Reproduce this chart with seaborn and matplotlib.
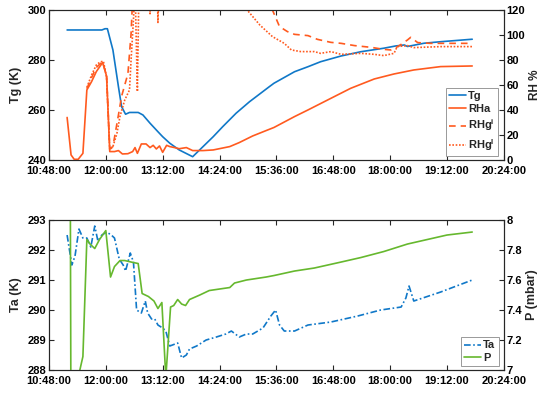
import matplotlib
matplotlib.use("Agg")
import matplotlib.pyplot as plt
import seaborn as sns

# ---- top panel: ground temperature and relative humidity ----
tg_time = ["11:11", "11:55", "11:59", "12:02", "12:09", "12:16", "12:20", "12:25", "12:30",
           "12:41", "12:47", "12:56", "13:06", "13:12", "13:21", "13:33", "13:50", "14:03",
           "14:16", "14:28", "14:45", "15:02", "15:27", "15:33", "15:59", "16:16", "16:32",
           "16:58", "17:23", "17:52", "18:07", "18:18", "18:22", "18:43", "19:04", "19:44"]
tg = [292, 292, 292.5, 292.5, 284, 269.3, 261.3, 258.3, 259, 259, 258, 254.7, 251.3, 249.3,
      246.7, 244, 241.3, 245.3, 249.3, 253.3, 258.7, 263.3, 269.3, 270.7, 275.3, 277.3, 279.3,
      281.6, 283.3, 284.7, 285.6, 286, 285.4, 286.7, 287.3, 288.3]

rha_time = ["11:11", "11:16", "11:20", "11:25", "11:31", "11:36", "11:42", "11:48", "11:56",
            "12:01", "12:05", "12:11", "12:16", "12:21", "12:28", "12:34", "12:37", "12:40",
            "12:45", "12:51", "12:56", "13:00", "13:04", "13:08", "13:12", "13:17", "13:21",
            "13:27", "13:33", "13:42", "13:50", "14:03", "14:16", "14:37", "14:49", "15:06",
            "15:23", "15:33", "15:59", "16:16", "16:45", "17:10", "17:40", "18:05", "18:30",
            "19:04", "19:44"]
rha = [34, 4, 0.5, 0.5, 5.3, 56, 62.7, 70.7, 78, 67, 6.7, 6.7, 7.5, 4.8, 5, 6.7, 9.9, 5.3,
       12.8, 12.8, 9.9, 11.7, 8.8, 11.2, 6.1, 11.7, 10.7, 9.9, 9, 9.9, 7.5, 7.5, 8, 10.7, 13.9,
       19.2, 23.5, 26, 34.7, 40, 49.3, 57.3, 64.8, 68.8, 72, 74.7, 75.2]

rhgi_time = ["11:36", "11:42", "11:48", "11:53", "11:56", "12:01", "12:05", "12:09", "12:16",
             "12:20", "12:28", "12:32", "12:34", "13:00", "14:00", "15:00", "15:31", "15:40",
             "15:50", "15:59", "16:16", "16:28", "16:45", "16:58", "17:15", "17:36", "17:52",
             "18:01", "18:11", "18:22", "18:26", "18:35", "18:51", "19:21", "19:44"]
rhgi = [57, 66, 74, 77, 78.5, 67, 9, 10.7, 36, 51, 69, 101, 130, 170, 170, 150, 120, 106.7,
        102.7, 100.5, 99.5, 96.5, 94.1, 93.3, 91.5, 90.1, 88.5, 88, 91.2, 96, 98.1, 93.9, 93.3,
        93.3, 93.3]

rhgl_time = ["11:36", "11:42", "11:48", "11:53", "11:57", "12:01", "12:05", "12:09", "12:14",
             "12:18", "12:24", "12:30", "12:32", "12:35", "12:37", "12:40", "12:42", "12:54",
             "12:56", "12:57", "13:05", "13:06", "13:08", "14:00", "14:59", "15:15", "15:31",
             "15:46", "15:55", "16:07", "16:24", "16:32", "16:45", "16:58", "17:23", "17:40",
             "17:52", "18:05", "18:09", "18:22", "18:30", "19:04", "19:44"]
rhgl = [58, 68, 76, 78.5, 79, 66, 8, 10.7, 21, 35, 48, 56, 80, 112, 140, 54.7, 140, 150, 117,
        150, 150, 110, 150, 160, 120, 108, 98.7, 93.3, 88, 86.7, 86.7, 85.3, 86.7, 84.5, 85.3,
        84.5, 83.5, 85.3, 90.7, 91.5, 89.9, 90.7, 90.7]

# ---- bottom panel: air temperature and pressure ----
ta_time = ["11:11", "11:17", "11:21", "11:26", "11:31", "11:36", "11:41", "11:46", "11:50",
           "11:55", "12:01", "12:07", "12:11", "12:17", "12:22", "12:25", "12:31", "12:35",
           "12:39", "12:45", "12:50", "12:53", "12:58", "13:02", "13:06", "13:12", "13:16",
           "13:21", "13:31", "13:36", "13:42", "13:46", "13:55", "14:07", "14:20", "14:32",
           "14:39", "14:49", "14:58", "15:06", "15:19", "15:29", "15:35", "15:40", "15:46",
           "15:59", "16:16", "16:45", "17:19", "17:48", "18:14", "18:20", "18:24", "18:30",
           "19:04", "19:44"]
ta = [292.5, 291.5, 291.8, 292.7, 292.4, 292.4, 292.1, 292.8, 292.3, 292.5, 292.6, 292.5,
      292.4, 291.7, 291.5, 291.3, 291.9, 291.6, 290.0, 289.9, 290.3, 289.9, 289.7, 289.7,
      289.5, 289.4, 289.3, 288.8, 288.9, 288.4, 288.5, 288.7, 288.8, 289.0, 289.1, 289.2,
      289.3, 289.1, 289.2, 289.2, 289.4, 289.8, 290.0, 289.5, 289.3, 289.3, 289.5, 289.6,
      289.8, 290.0, 290.1, 290.4, 290.8, 290.3, 290.6, 291.0]

p_time = ["11:15", "11:16", "11:25", "11:31", "11:36", "11:40", "11:46", "11:52", "12:00",
          "12:06", "12:11", "12:18", "12:24", "12:32", "12:41", "12:46", "12:54", "13:01",
          "13:06", "13:11", "13:16", "13:22", "13:26", "13:31", "13:36", "13:41", "13:46",
          "13:59", "14:11", "14:37", "14:43", "14:58", "15:23", "15:33", "15:59", "16:24",
          "16:58", "17:23", "17:52", "18:22", "18:47", "19:12", "19:44"]
p = [8.3, 6.4, 6.95, 7.09, 7.87, 7.84, 7.81, 7.87, 7.93, 7.62, 7.69, 7.73, 7.73, 7.72, 7.71,
     7.51, 7.49, 7.46, 7.41, 7.45, 6.95, 7.42, 7.43, 7.47, 7.44, 7.43, 7.47, 7.50, 7.53, 7.55,
     7.58, 7.60, 7.62, 7.63, 7.66, 7.68, 7.72, 7.75, 7.79, 7.84, 7.87, 7.90, 7.92]


def to_hours(times):
    return [int(t[:2]) + int(t[3:]) / 60 for t in times]


sns.set_theme(style="white")
plt.rcParams['font.family'] = ['Liberation Sans', 'DejaVu Sans']
plt.rcParams['font.weight'] = 'bold'
plt.rcParams['axes.labelweight'] = 'bold'
plt.rcParams['mathtext.fontset'] = 'custom'
plt.rcParams['mathtext.rm'] = 'Liberation Sans:bold'
plt.rcParams['mathtext.bf'] = 'Liberation Sans:bold'
plt.rcParams['mathtext.it'] = 'Liberation Sans:bold'

BLUE = '#1078C8'
ORANGE = '#FF5A1F'
GREEN = '#66B82E'
EDGE = '#262626'

fig = plt.figure(figsize=(5.5, 3.93), dpi=100)
ax_top = fig.add_axes([0.089, 0.593, 0.827, 0.3816])
ax_bot = fig.add_axes([0.089, 0.0585, 0.827, 0.3816])
ax_rh = ax_top.twinx()
ax_p = ax_bot.twinx()

lw = 1.2
sns.lineplot(x=to_hours(tg_time), y=tg, ax=ax_top, color=BLUE, lw=lw, legend=False)
sns.lineplot(x=to_hours(rha_time), y=rha, ax=ax_rh, color=ORANGE, lw=lw, legend=False)
sns.lineplot(x=to_hours(rhgi_time), y=rhgi, ax=ax_rh, color=ORANGE, lw=lw,
             linestyle=(0, (4, 3)), legend=False)
sns.lineplot(x=to_hours(rhgl_time), y=rhgl, ax=ax_rh, color=ORANGE, lw=lw,
             linestyle=(0, (1, 1)), legend=False)
sns.lineplot(x=to_hours(ta_time), y=ta, ax=ax_bot, color=BLUE, lw=lw,
             linestyle=(0, (4, 1.5, 1, 1.5)), legend=False)
sns.lineplot(x=to_hours(p_time), y=p, ax=ax_p, color=GREEN, lw=lw, legend=False)

xticks = [10.8 + 1.2 * k for k in range(9)]
xlabels = [f"{int(round(h * 60)) // 60:02d}:{int(round(h * 60)) % 60:02d}:00" for h in xticks]

for ax in (ax_top, ax_bot):
    ax.set_xlim(10.8, 20.4)
    ax.set_xticks(xticks)
    ax.set_xticklabels(xlabels)
    ax.set_xlabel('')

ax_top.set_ylim(240, 300)
ax_top.set_yticks([240, 260, 280, 300])
ax_rh.set_ylim(0, 120)
ax_rh.set_yticks([0, 20, 40, 60, 80, 100, 120])
ax_bot.set_ylim(288, 293)
ax_bot.set_yticks([288, 289, 290, 291, 292, 293])
ax_p.set_ylim(7, 8)
ax_p.set_yticks([7, 7.2, 7.4, 7.6, 7.8, 8])
ax_p.set_yticklabels(['7', '7.2', '7.4', '7.6', '7.8', '8'])

ax_top.set_ylabel('Tg (K)', fontsize=9, labelpad=4)
ax_rh.set_ylabel('RH %', fontsize=8.5, labelpad=3)
ax_bot.set_ylabel('Ta (K)', fontsize=9, labelpad=4)
ax_p.set_ylabel('P (mbar)', fontsize=9, labelpad=3)

for ax in (ax_top, ax_bot, ax_rh, ax_p):
    for s in ax.spines.values():
        s.set_color(EDGE)
        s.set_linewidth(0.8)
    ax.tick_params(direction='in', length=3.5, width=0.8, colors=EDGE, labelsize=8,
                   labelcolor='black', pad=2)
for ax in (ax_top, ax_bot):
    ax.tick_params(axis='x', top=True, bottom=True, pad=4.5)
    ax.tick_params(axis='y', left=True, right=False)
for ax in (ax_rh, ax_p):
    ax.tick_params(axis='y', right=True, left=False)

h_top = ax_top.lines + ax_rh.lines
leg1 = ax_rh.legend(h_top, ['Tg', 'RHa', r'RHg$^{\mathbf{i}}$', r'RHg$^{\mathbf{l}}$'],
                    loc='lower right', bbox_to_anchor=(0.987, 0.027), borderaxespad=0,
                    fontsize=8, handlelength=1.5, handletextpad=0.2, labelspacing=0.3,
                    borderpad=0.3, fancybox=False, framealpha=1, edgecolor='#999999')
leg1.get_frame().set_linewidth(0.7)

h_bot = ax_bot.lines + ax_p.lines
leg2 = ax_p.legend(h_bot, ['Ta', 'P'], loc='lower right', bbox_to_anchor=(0.989, 0.027),
                   borderaxespad=0, fontsize=8, handlelength=1.5, handletextpad=0.2,
                   labelspacing=0.2, borderpad=0.3, fancybox=False, framealpha=1,
                   edgecolor='#999999')
leg2.get_frame().set_linewidth(0.7)

fig.savefig('out.png', dpi=100)
